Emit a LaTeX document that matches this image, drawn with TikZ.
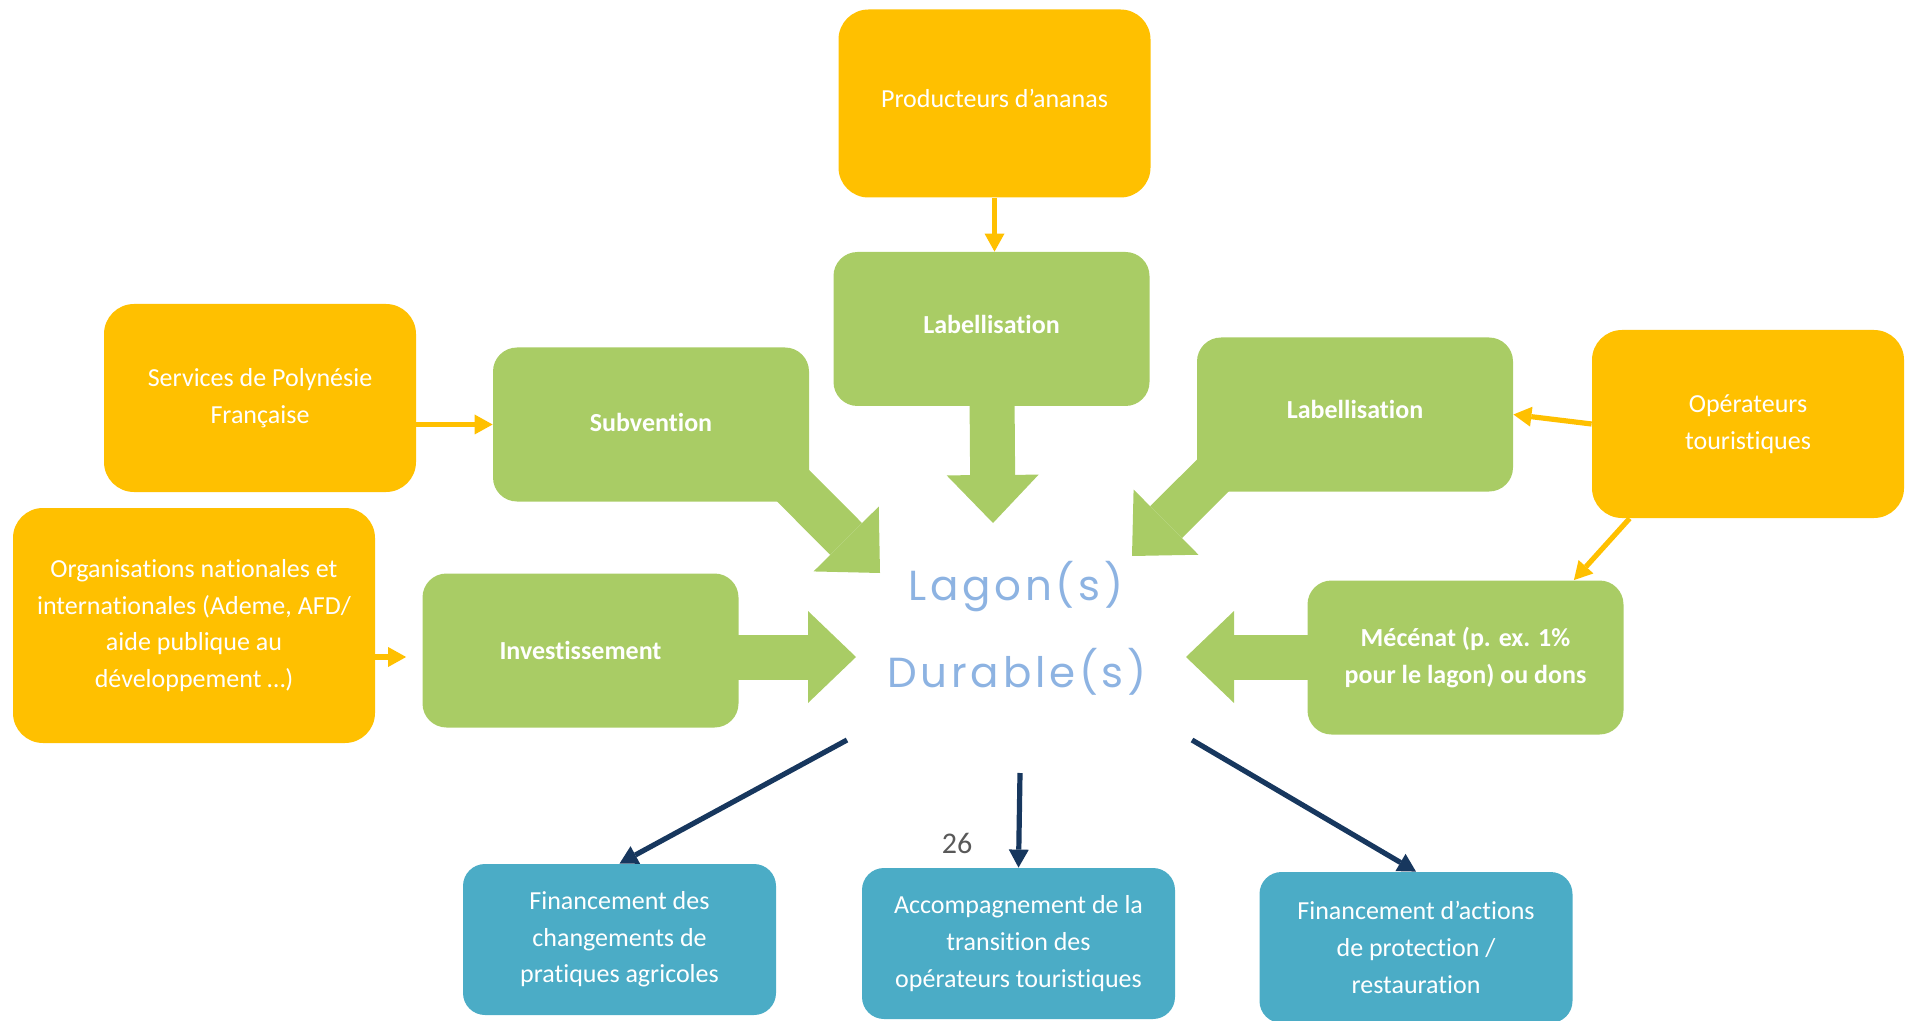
\documentclass[tikz,border=0pt]{standalone}
\usepackage{fontspec}
\setmainfont{Carlito}[Ligatures=NoCommon]
\newfontfamily\handfont[LetterSpace=9]{Poppins}
\usetikzlibrary{arrows.meta,backgrounds}

\definecolor{ambre}{HTML}{FFC000}
\definecolor{vert}{HTML}{A9CC65}
\definecolor{turquoise}{HTML}{4BACC6}
\definecolor{marine}{HTML}{17375E}
\definecolor{ciel}{HTML}{8DB3E2}
\definecolor{gris}{HTML}{595959}

\begin{document}
\begin{tikzpicture}[x=0.5pt,y=-0.5pt,
  txt/.style={text=white,align=center,font=\fontsize{13}{18.3}\selectfont},
  seul/.style={text depth=5pt},
  acteur/.style={txt,fill=ambre,rounded corners=15pt,minimum width=156pt,minimum height=94pt},
  levier/.style={txt,fill=vert,rounded corners=12pt,minimum width=158pt,minimum height=77pt,
    font=\fontsize{13}{18.3}\selectfont\bfseries},
  effet/.style={txt,fill=turquoise,rounded corners=11pt,minimum width=156.5pt,minimum height=75.5pt},
  lien/.style={ambre,line width=2.6pt,-{Triangle[length=9pt,width=10pt,line width=0pt]}},
  impact/.style={marine,line width=2.6pt,-{Triangle[length=9pt,width=10pt,line width=0pt]}},
  gros/.style={vert,line width=22.5pt,-{Triangle[length=24pt,width=46pt,line width=0pt]}}]
  \useasboundingbox (0,0) rectangle (1916,1021);

  \node[acteur,seul] (prod) at (994.5,103.5) {Producteurs d’ananas};
  \node[acteur] (svc) at (260,398) {Services de Polynésie\\Française};
  \node[acteur,minimum width=181pt,minimum height=117.5pt] (org) at (194,625.5)
    {Organisations nationales et\\internationales (Ademe, AFD/\\aide publique au\\développement …)};
  \node[acteur] (ope) at (1748,424) {Opérateurs\\touristiques};

  \node[levier,seul] (lab) at (991.5,329) {Labellisation};
  \node[levier,text depth=2.5pt] (sub) at (651,424.5) {Subvention};
  \node[levier,seul] (labr) at (1355,414.5) {Labellisation};
  \node[levier] (inv) at (580.5,650.5) {Investissement};
  \node[levier] (mec) at (1465.5,657.5) {Mécénat (p. ex. 1\%\\pour le lagon) ou dons};

  \node[effet] (fin1) at (619.5,939.5) {Financement des\\changements de\\pratiques agricoles};
  \node[effet] (acc) at (1018.5,943.5) {Accompagnement de la\\transition des\\opérateurs touristiques};
  \node[effet] (fin2) at (1416,947.5) {Financement d’actions\\de protection /\\restauration};

  \node[ciel,font=\handfont\fontsize{21}{21}\selectfont,anchor=base] (lagon) at (1016,600) {Lagon(s)};
  \node[ciel,font=\handfont\fontsize{21}{21}\selectfont,anchor=base] (durable) at (1017,687) {Durable(s)};
  \node[gris,font=\fontsize{15}{15}\selectfont] (page) at (957,843) {26};

  \coordinate (labtip) at (993,523);
  \coordinate (subtip) at (880,573);
  \coordinate (labrtip) at (1132,556);
  \coordinate (invtip) at (856,657);
  \coordinate (mectip) at (1186,657);
  \begin{scope}[on background layer]
    \draw[gros] (lab.center) -- (labtip);
    \draw[gros] ([shift={(-40,-40)}]sub.south east) -- (subtip);
    \draw[gros] ([shift={(40,-40)}]labr.south west) -- (labrtip);
    \draw[gros] (inv.center |- invtip) -- (invtip);
    \draw[gros] (mec.center |- mectip) -- (mectip);
  \end{scope}

  \draw[lien] (prod) -- (prod |- lab.north);
  \draw[lien] (svc.east |- sub.west) -- (sub.west);
  \draw[lien,shorten >=8pt] (org.east |- invtip) -- (inv.west |- invtip);
  \draw[lien] (ope.west) -- (labr.east);
  \draw[lien] ([xshift=19pt]ope.south west) -- ([xshift=-25pt]mec.north east);

  \coordinate (d1) at (847,740);
  \coordinate (d2) at (1020,773);
  \coordinate (d3) at (1192,740);
  \draw[impact] (d1) -- (fin1.north);
  \draw[impact] (d2) -- (acc.north);
  \draw[impact] (d3) -- (fin2.north);
\end{tikzpicture}
\end{document}
